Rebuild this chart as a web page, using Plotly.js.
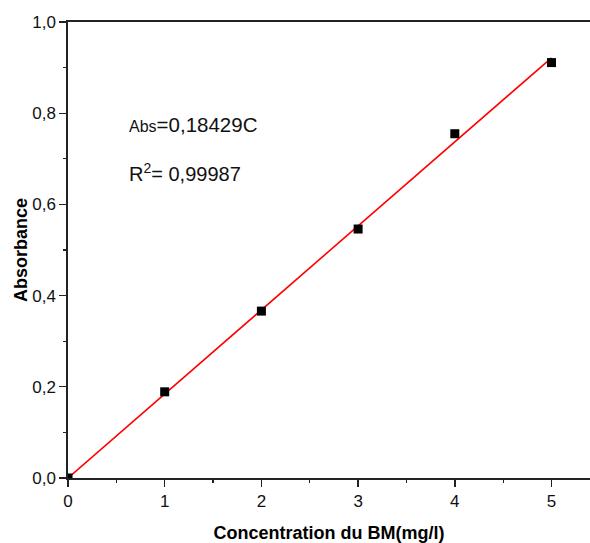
<!DOCTYPE html>
<html>
<head>
<meta charset="utf-8">
<script src="https://cdn.plot.ly/plotly-3.0.1.min.js"></script>
<style>html,body{margin:0;padding:0;background:#fff;}#chart{width:590px;height:543px;}</style>
</head>
<body>
<div id="chart"></div>
<script>
// Measured data points
var concentration = [0, 1, 2, 3, 4, 5];
var absorbance = [0, 0.189, 0.366, 0.546, 0.755, 0.911];
// Linear fit Abs = 0.18429 C, endpoints
var fitX = [0, 5];
var fitY = [0, 0.92145];
var yTicks = [0, 0.2, 0.4, 0.6, 0.8, 1.0];
var xTicks = [0, 1, 2, 3, 4, 5];

var font = "Liberation Sans, Arial, sans-serif";

var traces = [
  {
    x: fitX, y: fitY, mode: 'lines', type: 'scatter',
    line: {color: '#ff0000', width: 1.6},
    hoverinfo: 'skip', showlegend: false
  },
  {
    x: concentration, y: absorbance, mode: 'markers', type: 'scatter',
    marker: {symbol: 'square', size: 9, color: '#000000'},
    showlegend: false
  }
];

var layout = {
  width: 590, height: 543,
  margin: {l: 68, r: 0, t: 22, b: 65},
  paper_bgcolor: '#ffffff', plot_bgcolor: '#ffffff',
  separators: ', ',
  showlegend: false,
  font: {family: font, color: '#111', size: 17},
  xaxis: {
    range: [0, 5.398], tickvals: xTicks, tickformat: 'd',
    showgrid: false, zeroline: false,
    showline: true, linecolor: '#222', linewidth: 1.6, mirror: true,
    ticks: 'outside', ticklen: 7, tickwidth: 1.4, tickcolor: '#222',
    minor: {dtick: 0.5, ticks: 'outside', ticklen: 3, tickwidth: 1.2, tickcolor: '#222', showgrid: false},
    tickfont: {family: font, size: 17, color: '#111'},
    title: {text: '<b>Concentration du BM(mg/l)</b>', font: {family: font, size: 18, color: '#000'}, standoff: 16}
  },
  yaxis: {
    range: [0, 1], tickvals: yTicks, tickformat: '.1f',
    showgrid: false, zeroline: false,
    showline: true, linecolor: '#222', linewidth: 1.6,
    ticks: 'outside', ticklen: 7, tickwidth: 1.4, tickcolor: '#222',
    minor: {dtick: 0.1, ticks: 'outside', ticklen: 3, tickwidth: 1.2, tickcolor: '#222', showgrid: false},
    tickfont: {family: font, size: 17, color: '#111'},
    title: {text: '<b>Absorbance</b>', font: {family: font, size: 18, color: '#000'}, standoff: 0}
  },
  annotations: [
    {
      xref: 'paper', yref: 'paper', x: 0.113, y: 0.776, xanchor: 'left', yanchor: 'middle',
      showarrow: false, align: 'left',
      text: '<span style="font-size:16px">Abs</span>=0,18429C',
      font: {family: font, size: 20.5, color: '#111'}
    },
    {
      xref: 'paper', yref: 'paper', x: 0.113, y: 0.669, xanchor: 'left', yanchor: 'middle',
      showarrow: false, align: 'left',
      text: 'R<sup>2</sup>= 0,99987',
      font: {family: font, size: 20, color: '#111'}
    }
  ]
};

Plotly.newPlot('chart', traces, layout, {displayModeBar: false, staticPlot: true});
</script>
</body>
</html>
